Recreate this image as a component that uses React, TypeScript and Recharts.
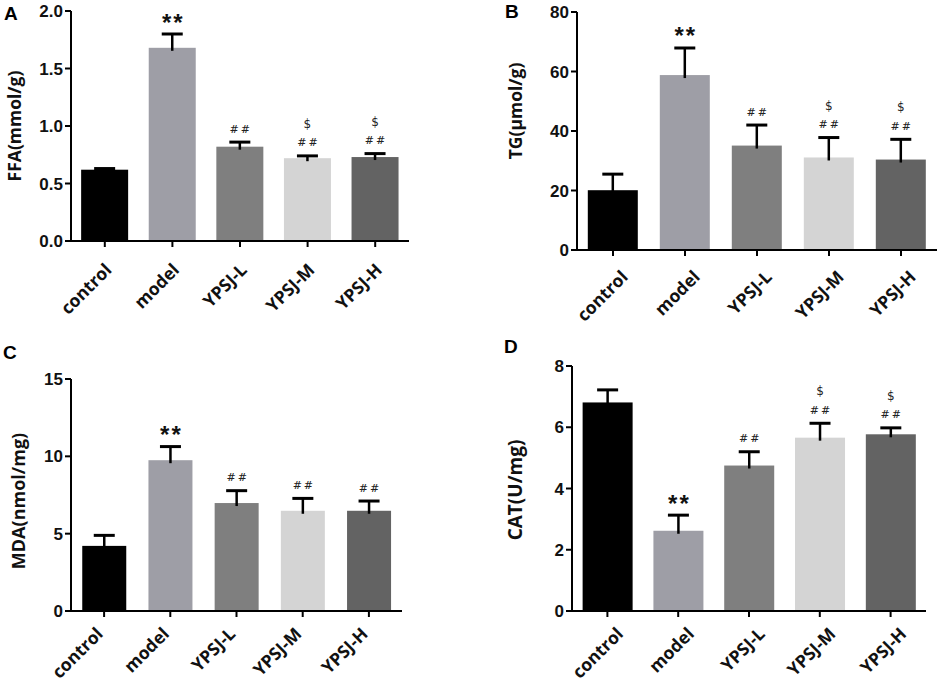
import React from 'react';
import { BarChart, Bar, XAxis, YAxis, Label } from 'recharts';

const categories = ['control', 'model', 'YPSJ-L', 'YPSJ-M', 'YPSJ-H'];
const barColors = ['#000000', '#9e9ea6', '#7f7f7f', '#d4d4d4', '#636363'];

// mean and upper SD per group
const ffaMean = [0.62, 1.68, 0.82, 0.72, 0.73];
const ffaSd = [0.01, 0.12, 0.04, 0.02, 0.03];
const ffaTicks = [0, 0.5, 1.0, 1.5, 2.0];

const tgMean = [20.1, 58.8, 35.1, 31.1, 30.4];
const tgSd = [5.4, 9.1, 6.9, 6.7, 6.8];
const tgTicks = [0, 20, 40, 60, 80];

const mdaMean = [4.21, 9.75, 6.98, 6.48, 6.48];
const mdaSd = [0.68, 0.88, 0.8, 0.8, 0.63];
const mdaTicks = [0, 5, 10, 15];

const catMean = [6.81, 2.62, 4.75, 5.66, 5.77];
const catSd = [0.41, 0.51, 0.45, 0.47, 0.21];
const catTicks = [0, 2, 4, 6, 8];

// significance marks
const starsA = ['', '**', '', '', ''];
const hashA = ['', '', '##', '##', '##'];
const dollarA = ['', '', '', '$', '$'];
const starsB = ['', '**', '', '', ''];
const hashB = ['', '', '##', '##', '##'];
const dollarB = ['', '', '', '$', '$'];
const starsC = ['', '**', '', '', ''];
const hashC = ['', '', '##', '##', '##'];
const dollarC = ['', '', '', '', ''];
const starsD = ['', '**', '', '', ''];
const hashD = ['', '', '##', '##', '##'];
const dollarD = ['', '', '', '$', '$'];

const buildRows = (mean: number[], sd: number[], stars: string[], hash: string[], dollar: string[]) =>
  categories.map((name, i) => ({
    name,
    mean: mean[i],
    sd: sd[i],
    stars: stars[i],
    hash: hash[i],
    dollar: dollar[i],
    color: barColors[i],
  }));

const labelFont = '"Open Sans", "Liberation Sans", Arial, sans-serif';
const numFont = '"Liberation Sans", Arial, sans-serif';

const BarWithError = (props: any) => {
  const { x, y, width, height, payload } = props;
  const cx = x + width / 2;
  const pxPerUnit = payload.mean ? height / payload.mean : 0;
  const top = y - payload.sd * pxPerUnit;
  return (
    <g>
      <rect x={x} y={y} width={width} height={height} fill={payload.color} />
      <line x1={cx} x2={cx} y1={y + 3} y2={top} stroke="#000" strokeWidth={2.5} />
      <line x1={cx - 10.5} x2={cx + 10.5} y1={top} y2={top} stroke="#000" strokeWidth={3} />
      {payload.stars && (
        <text x={cx + 1} y={top - 12} textAnchor="middle" dominantBaseline="central"
          fontSize={24} fontWeight="bold" fontFamily={numFont} letterSpacing={2} fill="#111">
          {payload.stars}
        </text>
      )}
      {payload.hash && (
        <text x={cx + 1} y={top - 13} textAnchor="middle" dominantBaseline="central"
          fontSize={11} fontFamily='"DejaVu Serif", serif' letterSpacing={2} fill="#222">
          {payload.hash}
        </text>
      )}
      {payload.dollar && (
        <text x={cx} y={top - 32} textAnchor="middle" dominantBaseline="central"
          fontSize={12} fontFamily='"DejaVu Sans", sans-serif' fill="#222">
          {payload.dollar}
        </text>
      )}
    </g>
  );
};

const makeTick = (dx: number, dy: number) => (props: any) => {
  const { x, y, payload } = props;
  const tx = x + dx;
  const ty = y + dy;
  return (
    <text x={tx} y={ty} transform={`rotate(-45, ${tx}, ${ty})`} textAnchor="end"
      fontSize={17.5} fontWeight="bold" fontFamily={labelFont} fill="#111">
      {payload.value}
    </text>
  );
};

interface PanelProps {
  letter: string;
  rows: any[];
  ticks: number[];
  digits: number;
  yLabel: string;
  labelSize: number;
  left: number;
  top: number;
  width: number;
  height: number;
  axisW: number;
  rightM: number;
  topM: number;
  xAxisH: number;
  labelX: number;
  labelY: number;
  letterX: number;
  letterY: number;
  gap: string;
  tickDx: number;
  tickDy: number;
}

const Panel = (p: PanelProps) => {
  const XTick = makeTick(p.tickDx, p.tickDy);
  return (
    <div style={{ position: 'absolute', left: p.left, top: p.top, width: p.width, height: p.height }}>
      <div style={{
        position: 'absolute', left: p.letterX, top: p.letterY, fontFamily: numFont,
        fontWeight: 'bold', fontSize: 19, lineHeight: '19px', color: '#000',
      }}>{p.letter}</div>
      <BarChart width={p.width} height={p.height} data={p.rows}
        margin={{ top: p.topM, right: p.rightM, left: 0, bottom: 0 }}
        barCategoryGap={p.gap}>
        <XAxis dataKey="name" interval={0} height={p.xAxisH} tick={<XTick />}
          axisLine={{ stroke: '#000', strokeWidth: 2 }}
          tickLine={{ stroke: '#000', strokeWidth: 2 }} tickSize={6} />
        <YAxis width={p.axisW} domain={[p.ticks[0], p.ticks[p.ticks.length - 1]]} ticks={p.ticks}
          interval={0} tickFormatter={(v: number) => v.toFixed(p.digits)}
          axisLine={{ stroke: '#000', strokeWidth: 2 }}
          tickLine={{ stroke: '#000', strokeWidth: 2 }} tickSize={6}
          tick={{ fill: '#111', fontSize: 17, fontWeight: 'bold', fontFamily: numFont }}>
          <Label content={() => (
            <text x={p.labelX} y={p.labelY} transform={`rotate(-90, ${p.labelX}, ${p.labelY})`}
              textAnchor="middle" dominantBaseline="central" fontSize={p.labelSize} fontWeight="bold"
              fontFamily={labelFont} fill="#111">
              {p.yLabel}
            </text>
          )} />
        </YAxis>
        <Bar dataKey="mean" shape={<BarWithError />} isAnimationActive={false} />
      </BarChart>
    </div>
  );
};

export default function App() {
  return (
    <div style={{ position: 'absolute', left: 0, top: 0, width: 941, height: 685, background: '#fff', overflow: 'hidden' }}>
      <Panel letter="A" rows={buildRows(ffaMean, ffaSd, starsA, hashA, dollarA)} ticks={ffaTicks} digits={1}
        yLabel="FFA(mmol/g)" labelSize={17.5} left={0} top={0} width={470} height={340} axisW={71} rightM={61}
        topM={11} xAxisH={99} labelX={14} labelY={126} letterX={4} letterY={4} gap="15%" tickDx={8} tickDy={22} />
      <Panel letter="B" rows={buildRows(tgMean, tgSd, starsB, hashB, dollarB)} ticks={tgTicks} digits={0}
        yLabel="TG(μmol/g)" labelSize={17.5} left={470} top={0} width={471} height={340} axisW={107} rightM={4}
        topM={12} xAxisH={90} labelX={45} labelY={111} letterX={35} letterY={2} gap="15%" tickDx={16} tickDy={20} />
      <Panel letter="C" rows={buildRows(mdaMean, mdaSd, starsC, hashC, dollarC)} ticks={mdaTicks} digits={0}
        yLabel="MDA(nmol/mg)" labelSize={18} left={0} top={340} width={470} height={345} axisW={71} rightM={68}
        topM={39} xAxisH={74} labelX={18} labelY={161} letterX={3} letterY={3} gap="17%" tickDx={0} tickDy={16} />
      <Panel letter="D" rows={buildRows(catMean, catSd, starsD, hashD, dollarD)} ticks={catTicks} digits={0}
        yLabel="CAT(U/mg)" labelSize={19} left={470} top={340} width={471} height={345} axisW={102} rightM={15}
        topM={26} xAxisH={74} labelX={45} labelY={150} letterX={34} letterY={-3} gap="15%" tickDx={17} tickDy={16} />
    </div>
  );
}
